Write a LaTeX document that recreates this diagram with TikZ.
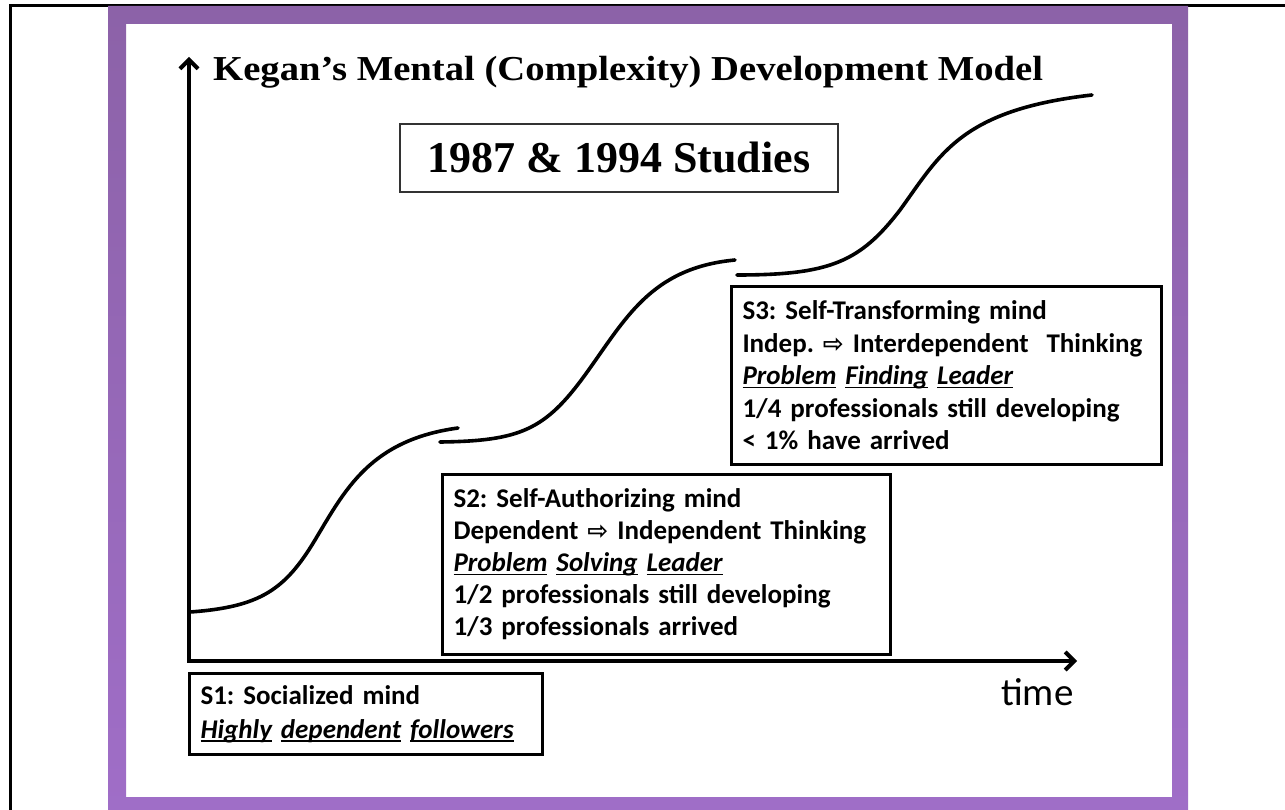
\documentclass[tikz,border=0pt]{standalone}
\usepackage{fontspec}
\usepackage{graphicx}
\setmainfont{Carlito}
\newfontfamily\titlefont{Liberation Serif}
\newfontfamily\arrowfont{DejaVu Sans}
\usetikzlibrary{arrows.meta}

% underline one word with a solid rule
\newcommand\wordul[1]{\leavevmode\setbox0\hbox{#1}\rlap{\rule[-3.5pt]{\wd0}{1.8pt}}\box0\relax}
\newcommand\thinarrow{{\arrowfont\fontsize{25}{25}\selectfont ⇨}}
% body text: tight word spacing as in the slide
\newcommand\boxtext[1]{\fontsize{27}{#1}\selectfont\bfseries\frenchspacing\spaceskip=0.15em plus 0.05em}

\definecolor{frametop}{RGB}{140,98,168}
\definecolor{framebot}{RGB}{160,110,200}

\tikzset{
  axisline/.style={line width=4pt, {Straight Barb[length=9pt,width=18pt]}-{Straight Barb[length=9pt,width=18pt]}},
  growth/.style={line width=3.6pt, line cap=round},
  stagebox/.style={draw, line width=3pt, anchor=north west, align=left,
    inner xsep=11pt, inner ysep=0pt},
}

\begin{document}
\begin{tikzpicture}[x=1pt,y=-1pt]
\useasboundingbox (0,0) rectangle (1285,810);

% page rules at the top and left
\draw[line width=2.5pt] (10.5,830) -- (10.5,5.5) -- (1300,5.5);

% purple frame
\shade[top color=frametop, bottom color=framebot, even odd rule]
  (108,6) rectangle (1188,830) (126,24) rectangle (1172,797);

% axes
\coordinate (ytop) at (189,57);
\coordinate (origin) at (189,661);
\coordinate (xend) at (1077,661);
\draw[axisline] (ytop) -- (origin) -- (xend);

% title and axis label
\node[anchor=base west, inner sep=0] (title) at (213,81)
  {\scalebox{1.105}[1]{\titlefont\bfseries\fontsize{35}{35}\selectfont Kegan’s Mental (Complexity) Development Model}};
\node[anchor=base west, inner sep=0] (timelbl) at (1001,705)
  {\fontsize{39}{39}\selectfont time};

% studies box
\node[draw=black!80, line width=1.3pt, minimum width=438pt, minimum height=68pt, inner sep=0] (studies) at (619,158)
  {\titlefont\bfseries\fontsize{44}{44}\selectfont 1987 \& 1994 Studies};

% growth curves of the three stages
\draw[growth] (190,612) .. controls (260,607) and (285,590) .. (315,540)
  .. controls (345,490) and (370,440) .. (458,428);
\draw[growth] (440,442) .. controls (520,441) and (545,430) .. (585,375)
  .. controls (625,320) and (650,268) .. (735,260);
\draw[growth] (737,275) .. controls (830,275) and (860,262) .. (900,210)
  .. controls (940,155) and (960,110) .. (1092,95);

% stage boxes
\node[stagebox, text width=331pt, minimum height=81pt, font=\boxtext{34}] (s1) at (188,672)
  {S1: Socialized mind\\
   {\itshape\wordul{Highly} \wordul{dependent} \wordul{followers}}};

\node[stagebox, text width=426pt, minimum height=180pt, font=\boxtext{32}] (s2) at (441,473)
  {S2: Self-Authorizing mind\\
   Dependent \thinarrow{} Independent Thinking\\
   {\itshape\wordul{Problem} \wordul{Solving} \wordul{Leader}}\\
   1/2 professionals still developing\\
   1/3 professionals arrived};

\node[stagebox, text width=408pt, minimum height=178pt, font=\boxtext{32.5}] (s3) at (730,285)
  {S3: Self-Transforming mind\\
   Indep. \thinarrow{} Interdependent\ \ Thinking\\
   {\itshape\wordul{Problem} \wordul{Finding} \wordul{Leader}}\\
   1/4 professionals still developing\\
   < 1\% have arrived};
\end{tikzpicture}
\end{document}
